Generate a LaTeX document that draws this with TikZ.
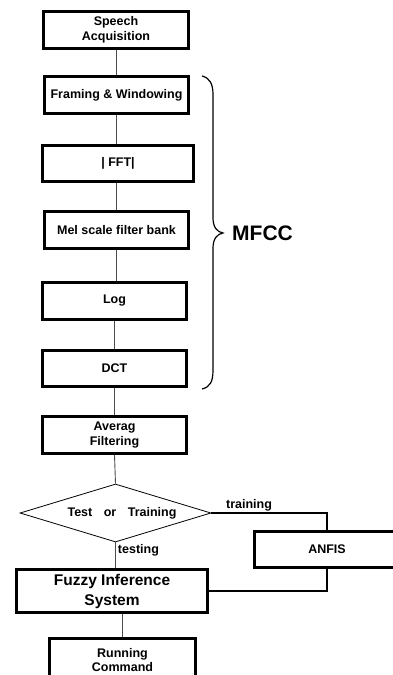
\documentclass[tikz,border=0pt]{standalone}
\usepackage{fontspec}
\setmainfont{Liberation Sans}
\usetikzlibrary{shapes.geometric}
\begin{document}
\begin{tikzpicture}[x=1pt,y=-1pt,
  box/.style={draw,line width=3pt,inner sep=0pt,align=center,font=\bfseries\fontsize{12.5}{14.5}\selectfont},
  decision/.style={draw,diamond,line width=0.8pt,inner sep=0pt,aspect=3.3,font=\bfseries\fontsize{12.5}{14.5}\selectfont},
  link/.style={draw=black!70,line width=0.9pt},
  flow/.style={draw,line width=1.4pt},
  lbl/.style={inner sep=0pt,font=\bfseries\fontsize{12.5}{14.5}\selectfont}]
\useasboundingbox (0,0) rectangle (392,675);
% processing chain
\node[box,minimum width=145pt,minimum height=37pt] (acq) at (116,30) {Speech\\Acquisition};
\node[box,minimum width=144pt,minimum height=37pt] (frame) at (116.5,95) {Framing \& Windowing};
\node[box,minimum width=151pt,minimum height=36pt] (fft) at (118,163.5) {\textbar{} FFT\textbar};
\node[box,minimum width=144pt,minimum height=37pt] (mel) at (116.5,230) {Mel scale filter bank};
\node[box,minimum width=144pt,minimum height=37pt] (log) at (114.5,301) {Log};
\node[box,minimum width=144pt,minimum height=36pt] (dct) at (114.5,368.5) {DCT};
\node[box,minimum width=144pt,minimum height=37pt] (avg) at (114.5,435) {Averag\\Filtering};
\node[decision,minimum width=191pt,minimum height=58pt] (dec) at (115.5,513) {\hspace*{13pt}Test\hspace{11.5pt}or\hspace{11.5pt}Training};
\node[box,minimum width=145pt,minimum height=36pt] (anfis) at (327,549.5) {ANFIS};
\node[box,minimum width=191pt,minimum height=43pt,font=\bfseries\fontsize{15.5}{20}\selectfont] (fis) at (112,591) {Fuzzy Inference\\System};
\node[box,minimum width=146pt,minimum height=43pt] (run) at (122.5,660) {Running\\Command};
% connectors
\draw[link] (acq.south) -- (acq.south |- frame.north);
\draw[link] (frame.south) -- (frame.south |- fft.north);
\draw[link] (mel.north) -- (mel.north |- fft.south);
\draw[link] (mel.south) -- (mel.south |- log.north);
\draw[link] (log.south) -- (log.south |- dct.north);
\draw[link] (dct.south) -- (dct.south |- avg.north);
\draw[link] (avg.south) -- (dec.north);
\draw[link] (dec.south) -- (dec.south |- fis.north)
  node[lbl,pos=0,anchor=base west,xshift=2pt,yshift=-11pt] {testing};
\draw[flow] (dec.east) -| (anfis.north)
  node[lbl,pos=0,anchor=base west,xshift=14pt,yshift=5pt] {training};
\draw[flow] (fis.east) -| (anfis.south);
\draw[link] (run.north) -- (run.north |- fis.south);
% MFCC brace
\draw[line width=1.2pt] (202,76) .. controls (210,78) and (213,84) .. (213,95) -- (213,218)
  .. controls (213,227) and (217,232) .. (223,233) .. controls (217,234) and (213,239) .. (213,248)
  -- (213,370) .. controls (213,382) and (210,387) .. (202,389);
\node[anchor=west,inner sep=0pt,font=\bfseries\fontsize{21}{24}\selectfont] (mfcc) at (232,233) {MFCC};
\end{tikzpicture}
\end{document}
